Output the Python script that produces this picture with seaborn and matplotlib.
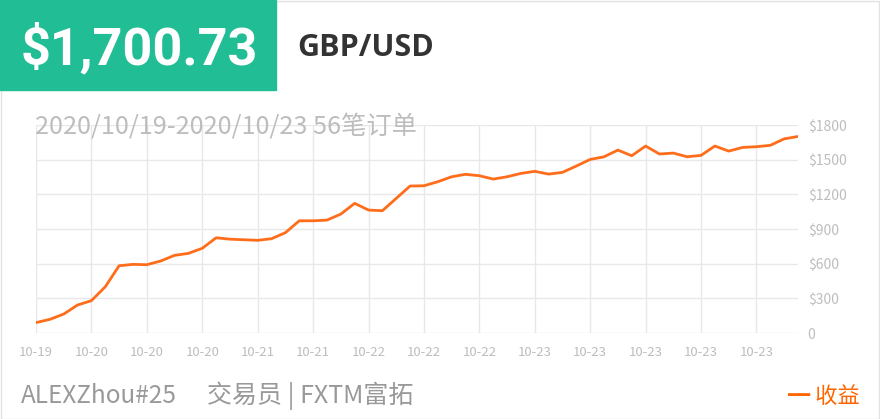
import numpy as np
import pandas as pd
import seaborn as sns
from matplotlib import pyplot as plt
from matplotlib.patches import Rectangle

# equity curve, one value per closed order (56 orders)
equity = [90, 118, 164, 242, 280, 400, 582, 594, 591, 623,
          672, 689, 733, 824, 812, 807, 802, 816, 868, 971,
          971, 977, 1029, 1122, 1064, 1058, 1165, 1272, 1274, 1309,
          1352, 1373, 1361, 1332, 1352, 1381, 1399, 1375, 1390, 1445,
          1502, 1525, 1583, 1534, 1618, 1549, 1557, 1525, 1537, 1618,
          1574, 1606, 1612, 1624, 1680, 1700.73]
tick_labels = ["10-19", "10-20", "10-20", "10-20", "10-21", "10-21", "10-22",
               "10-22", "10-22", "10-23", "10-23", "10-23", "10-23", "10-23"]
y_ticks = [0, 300, 600, 900, 1200, 1500, 1800]

df = pd.DataFrame({"order": np.arange(len(equity)), "equity": equity})

sns.set_theme(style="white")
plt.rcParams["font.family"] = ["Noto Sans CJK SC", "DejaVu Sans"]

fig = plt.figure(figsize=(8.8, 4.19), dpi=100)
W, H = 880, 419

# outer frame
fig.add_artist(Rectangle((0.5 / W, 0.5 / H), 1 - 1.5 / W, 1 - 1.5 / H,
                         transform=fig.transFigure, fill=False,
                         edgecolor="#e2e2e2", linewidth=1))
# green header box
fig.add_artist(Rectangle((0, 1 - 90 / H), 276 / W, 90 / H,
                         transform=fig.transFigure, color="#21bd95", zorder=2))
fig.text(139 / W, 1 - 49 / H, "$1,700.73", color="white", fontsize=37.5,
         fontweight="bold", family=["Roboto", "DejaVu Sans"],
         ha="center", va="center", zorder=3)
fig.text(297 / W, 1 - 48 / H, "GBP/USD", color="#333333", fontsize=22,
         fontweight="bold", family=["Open Sans", "DejaVu Sans"],
         ha="left", va="center")

ax = fig.add_axes([36 / W, (H - 333) / H, 762 / W, 208 / H])
sns.lineplot(data=df, x="order", y="equity", ax=ax, color="#ff6d1a",
             linewidth=2.0, zorder=3)
ax.set_xlim(0, len(equity) - 1)
ax.set_ylim(0, 1800)
ax.set_xticks(np.arange(0, len(equity), 4))
ax.set_xticklabels(tick_labels)
ax.set_yticks(y_ticks)
ax.set_yticklabels(["0" if v == 0 else f"${v}" for v in y_ticks])
ax.yaxis.tick_right()
ax.grid(True, color="#e8e8e8", linewidth=1)
ax.tick_params(axis="x", colors="#c4c4c4", labelsize=9.5, length=0, pad=9)
ax.tick_params(axis="y", colors="#bdbdbd", labelsize=10, length=0, pad=7)
for lbl in ax.get_xticklabels() + ax.get_yticklabels():
    lbl.set_color("#bdbdbd")
ax.set_xlabel("")
ax.set_ylabel("")
sns.despine(ax=ax, left=True, bottom=True)

fig.text(35 / W, 1 - 127 / H, "2020/10/19-2020/10/23 56笔订单", color="#bdbdbd",
         fontsize=18.2, ha="left", va="center")

# footer
fig.text(21 / W, 1 - 396 / H, "ALEXZhou#25", color="#999999",
         fontsize=17.5, ha="left", va="center")
fig.text(207 / W, 1 - 396 / H, "交易员 | FXTM富拓", color="#999999",
         fontsize=18, ha="left", va="center")
fig.text(860 / W, 1 - 396 / H, "━ 收益", color="#ff6600",
         fontsize=16, ha="right", va="center")

fig.savefig("out.png", dpi=100)
